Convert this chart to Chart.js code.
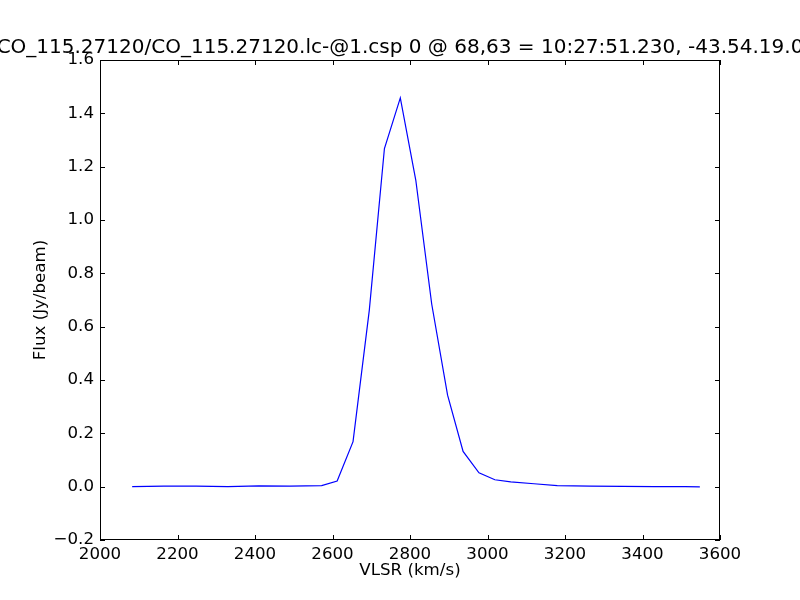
<!DOCTYPE html>
<html>
<head>
<meta charset="utf-8">
<script src="https://cdn.jsdelivr.net/npm/chart.js@4"></script>
<style>
  body { margin: 0; background: #fff; }
</style>
</head>
<body>
<canvas id="spectrum" width="800" height="600"></canvas>
<script>
// spectrum
let velocity = [2083, 2165, 2248, 2330, 2410, 2490, 2572, 2612, 2653, 2695, 2734, 2775, 2815, 2856, 2897, 2937, 2978, 3019, 3060, 3120, 3180, 3265, 3350, 3430, 3510, 3548];
let flux = [0.0, 0.002, 0.002, 0.0, 0.003, 0.002, 0.004, 0.021, 0.169, 0.662, 1.268, 1.458, 1.149, 0.685, 0.343, 0.132, 0.052, 0.026, 0.018, 0.011, 0.004, 0.002, 0.001, 0.0, 0.0, -0.001];

let xTicks = [2000, 2200, 2400, 2600, 2800, 3000, 3200, 3400, 3600];
let yTicks = [-0.2, 0.0, 0.2, 0.4, 0.6, 0.8, 1.0, 1.2, 1.4, 1.6];

let titleText = 'CO_115.27120/CO_115.27120.lc-@1.csp 0 @ 68,63 = 10:27:51.230, -43.54.19.0';

let font = 'DejaVu Sans';

// frame + inward ticks on all four sides, like matplotlib classic,
// plus the title, which overflows the canvas (Chart.js' title would squeeze it)
let frameTicks = {
  id: 'frameTicks',
  afterDraw(chart) {
    let ctx = chart.ctx;
    let a = chart.chartArea;
    let xs = chart.scales.x;
    let ys = chart.scales.y;
    let len = 5;
    ctx.save();
    ctx.strokeStyle = '#000';
    ctx.lineWidth = 1;
    ctx.strokeRect(a.left + 0.5, a.top + 0.5, a.right - a.left - 1, a.bottom - a.top - 1);
    ctx.beginPath();
    xTicks.forEach((v) => {
      let px = Math.round(xs.getPixelForValue(v)) + 0.5;
      ctx.moveTo(px, a.bottom);
      ctx.lineTo(px, a.bottom - len);
      ctx.moveTo(px, a.top);
      ctx.lineTo(px, a.top + len);
    });
    yTicks.forEach((v) => {
      let py = Math.round(ys.getPixelForValue(v)) + 0.5;
      ctx.moveTo(a.left, py);
      ctx.lineTo(a.left + len, py);
      ctx.moveTo(a.right, py);
      ctx.lineTo(a.right - len, py);
    });
    ctx.stroke();

    ctx.fillStyle = '#000';
    ctx.font = '20px "' + font + '"';
    ctx.textAlign = 'center';
    ctx.textBaseline = 'alphabetic';
    ctx.fillText(titleText, chart.width / 2, a.top - 7);
    ctx.restore();
  },
};

let chart = new Chart(document.getElementById('spectrum').getContext('2d'), {
  type: 'scatter',
  data: {
    datasets: [
      {
        data: velocity.map((v, i) => ({ x: v, y: flux[i] })),
        showLine: true,
        borderColor: '#0000ff',
        borderWidth: 1.2,
        pointRadius: 0,
        fill: false,
      },
    ],
  },
  options: {
    responsive: false,
    animation: false,
    layout: { padding: { left: 0, right: 80, top: 60, bottom: 0 } },
    plugins: {
      legend: { display: false },
      tooltip: { enabled: false },
      title: { display: false },
    },
    scales: {
      x: {
        type: 'linear',
        min: 2000,
        max: 3600,
        afterBuildTicks: (s) => { s.ticks = xTicks.map((v) => ({ value: v })); },
        afterFit: (s) => { s.height = 60; },
        grid: { display: false, drawTicks: false },
        border: { display: false },
        ticks: {
          color: '#000',
          padding: 5,
          maxRotation: 0,
          font: { family: font, size: 16.67 },
          callback: (v) => String(v),
        },
        title: {
          display: true,
          text: 'VLSR (km/s)',
          color: '#000',
          font: { family: font, size: 16.67 },
          padding: { top: 0, bottom: 19 },
        },
      },
      y: {
        min: -0.2,
        max: 1.6,
        afterBuildTicks: (s) => { s.ticks = yTicks.map((v) => ({ value: v })); },
        afterFit: (s) => { s.width = 100; },
        grid: { display: false, drawTicks: false },
        border: { display: false },
        ticks: {
          color: '#000',
          padding: 6,
          font: { family: font, size: 16.67 },
          callback: (v) => (v < 0 ? '\u2212' : '') + Math.abs(v).toFixed(1),
        },
        title: {
          display: true,
          text: 'Flux (Jy/beam)',
          color: '#000',
          font: { family: font, size: 16.67 },
          padding: { top: 31, bottom: 0 },
        },
      },
    },
  },
  plugins: [frameTicks],
});
</script>
</body>
</html>
